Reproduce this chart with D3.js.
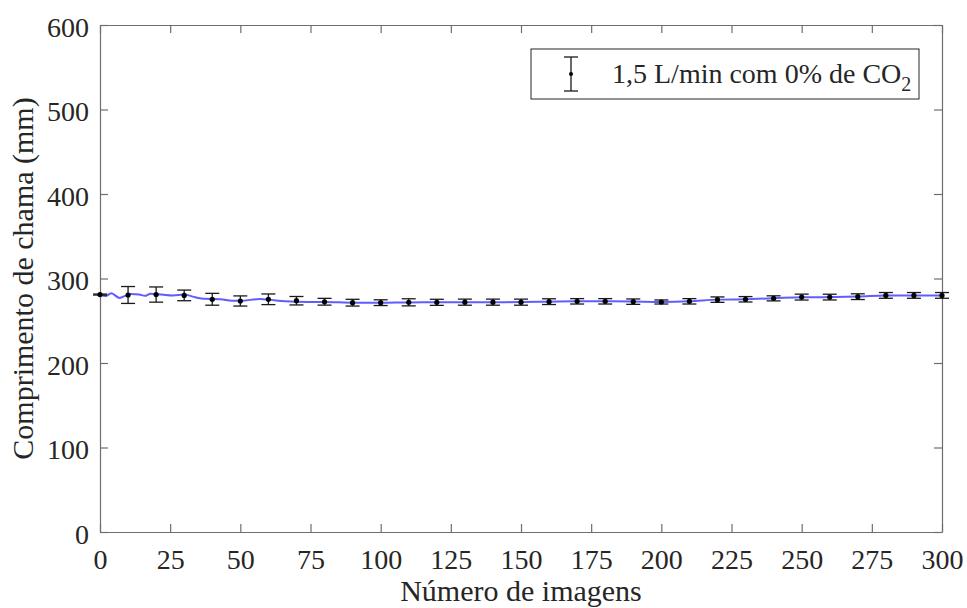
<!DOCTYPE html>
<html>
<head>
<meta charset="utf-8">
<script src="https://cdn.jsdelivr.net/npm/d3@7"></script>
<style>
  html, body { margin: 0; padding: 0; background: #fff; }
  svg { display: block; }
  text { font-family: "Liberation Serif", "Times New Roman", serif; fill: #262626; }
</style>
</head>
<body>
<svg id="chart" width="967" height="608"></svg>
<script>
// Flame length sampled every 10 images (mean ± deviation)
const sampleFrames = [0, 10, 20, 30, 40, 50, 60, 70, 80, 90, 100, 110, 120, 130, 140, 150,
  160, 170, 180, 190, 200, 210, 220, 230, 240, 250, 260, 270, 280, 290, 300];
const sampleMeans = [281, 280.5, 281, 280, 275.4, 273.4, 275.4, 273.7, 272.5, 271.4, 271.4,
  271.8, 271.8, 272, 272, 272, 272.6, 273, 273, 272.6, 272.2, 273, 275, 275.4, 276.5, 278,
  278, 278.5, 280, 280, 280];
const sampleErrors = [0.6, 10, 9, 6.3, 7, 6, 6.3, 5, 4, 4, 3.4, 4.2, 3.6, 3.6, 3.6, 3.6,
  3.4, 3.2, 3.2, 3.2, 2.4, 3.2, 3.2, 3.2, 3, 3.5, 3.4, 3.4, 3.4, 3.4, 3.4];

// Continuous flame length trace
const traceFrames = [0, 2, 4, 7, 9, 11, 14, 16, 18, 22, 26, 30, 34, 37, 43, 47, 50, 57, 60,
  66, 74, 80, 90, 100, 110, 120, 130, 140, 150, 160, 170, 180, 190, 200, 210, 220, 230, 240,
  250, 260, 270, 280, 290, 300];
const traceValues = [280.8, 279.3, 282.5, 277, 279.5, 281.7, 281, 279.5, 282, 281, 280, 281,
  277.7, 276, 275.5, 273.7, 273.7, 275.7, 275, 273, 272.2, 272.3, 271.4, 271.3, 271.7, 271.8,
  272, 272, 272.1, 272.6, 273, 273, 272.7, 272.3, 273, 275, 275.5, 276.6, 277.8, 278, 278.6,
  279.8, 280, 280];

const xTicks = [0, 25, 50, 75, 100, 125, 150, 175, 200, 225, 250, 275, 300];
const yTicks = [0, 100, 200, 300, 400, 500, 600];

const legendLabel = "1,5 L/min com 0% de CO";
const legendSub = "2";
const xTitle = "Número de imagens";
const yTitle = "Comprimento de chama (mm)";

const svg = d3.select("#chart");
const plotL = 100, plotR = 942, plotT = 25, plotB = 532;
const x = d3.scaleLinear().domain([0, 300]).range([plotL, plotR]);
const y = d3.scaleLinear().domain([0, 600]).range([plotB, plotT]);

const axisColor = "#6e6e6e";
const tickLen = 8;
const tickFont = 28;
const titleFont = 30;

// Axes (ticks inward, boxed)
const bottomAxis = svg.append("g").attr("transform", `translate(0,${plotB})`)
  .call(d3.axisBottom(x).tickValues(xTicks).tickSizeInner(-tickLen).tickSizeOuter(0).tickPadding(17));
const leftAxis = svg.append("g").attr("transform", `translate(${plotL},0)`)
  .call(d3.axisLeft(y).tickValues(yTicks).tickSizeInner(-tickLen).tickSizeOuter(0).tickPadding(11));
const topAxis = svg.append("g").attr("transform", `translate(0,${plotT})`)
  .call(d3.axisTop(x).tickValues(xTicks).tickSizeInner(-tickLen).tickSizeOuter(0).tickFormat(""));
const rightAxis = svg.append("g").attr("transform", `translate(${plotR},0)`)
  .call(d3.axisRight(y).tickValues(yTicks).tickSizeInner(-tickLen).tickSizeOuter(0).tickFormat(""));

[bottomAxis, leftAxis, topAxis, rightAxis].forEach(g => {
  g.select(".domain").attr("stroke", axisColor).attr("stroke-width", 1.2);
  g.selectAll(".tick line").attr("stroke", axisColor).attr("stroke-width", 1.2);
  g.selectAll(".tick text").attr("font-size", tickFont).attr("fill", "#262626");
});
leftAxis.selectAll(".tick text").attr("dy", "0.4em");

// Axis titles
svg.append("text").attr("x", (plotL + plotR) / 2).attr("y", 601)
  .attr("text-anchor", "middle").attr("font-size", titleFont).text(xTitle);
svg.append("text")
  .attr("transform", `translate(33,${(plotT + plotB) / 2}) rotate(-90)`)
  .attr("text-anchor", "middle").attr("font-size", titleFont).text(yTitle);

// Trace line
const line = d3.line().x((d, i) => x(traceFrames[i])).y(d => y(d)).curve(d3.curveMonotoneX);
svg.append("path").datum(traceValues).attr("d", line)
  .attr("fill", "none").attr("stroke", "#4d4dff").attr("stroke-width", 2).attr("stroke-opacity", 0.9);

// Error bars
const cap = 7;
const bars = svg.append("g").attr("stroke", "#1a1a1a").attr("stroke-width", 1.3);
sampleFrames.forEach((f, i) => {
  const cx = x(f), lo = y(sampleMeans[i] - sampleErrors[i]), hi = y(sampleMeans[i] + sampleErrors[i]);
  bars.append("line").attr("x1", cx).attr("x2", cx).attr("y1", lo).attr("y2", hi);
  bars.append("line").attr("x1", cx - cap).attr("x2", cx + cap).attr("y1", lo).attr("y2", lo);
  bars.append("line").attr("x1", cx - cap).attr("x2", cx + cap).attr("y1", hi).attr("y2", hi);
});
svg.append("g").selectAll("circle").data(sampleMeans).join("circle")
  .attr("cx", (d, i) => x(sampleFrames[i])).attr("cy", d => y(d)).attr("r", 2.6).attr("fill", "#000");

// Legend
const lg = svg.append("g");
lg.append("rect").attr("x", 531).attr("y", 49).attr("width", 388).attr("height", 50)
  .attr("fill", "#fff").attr("stroke", "#262626").attr("stroke-width", 1);
lg.append("line").attr("x1", 571).attr("x2", 571).attr("y1", 57).attr("y2", 91).attr("stroke", "#1a1a1a").attr("stroke-width", 1.3);
lg.append("line").attr("x1", 564).attr("x2", 578).attr("y1", 57).attr("y2", 57).attr("stroke", "#1a1a1a").attr("stroke-width", 1.3);
lg.append("line").attr("x1", 564).attr("x2", 578).attr("y1", 91).attr("y2", 91).attr("stroke", "#1a1a1a").attr("stroke-width", 1.3);
lg.append("circle").attr("cx", 571).attr("cy", 74).attr("r", 2).attr("fill", "#000");
const lt = lg.append("text").attr("x", 612).attr("y", 83).attr("font-size", tickFont);
lt.append("tspan").text(legendLabel);
lt.append("tspan").attr("font-size", 20).attr("dy", 8).text(legendSub);
</script>
</body>
</html>
